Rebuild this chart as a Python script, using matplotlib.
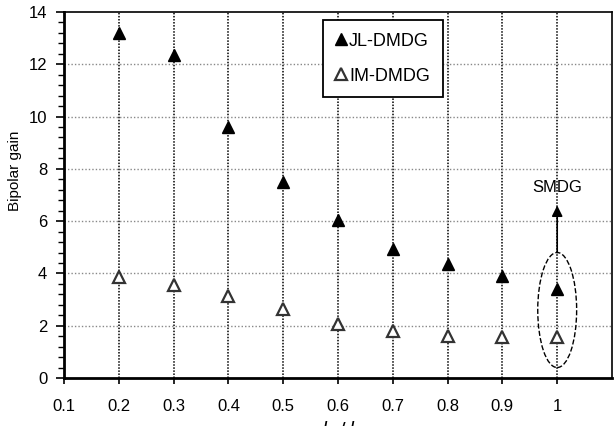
import matplotlib
matplotlib.use("Agg")
import matplotlib.pyplot as plt
from matplotlib.patches import Ellipse
from matplotlib.ticker import MultipleLocator

plt.rcParams['font.family'] = ['Liberation Sans', 'DejaVu Sans']

ratio = [0.2, 0.3, 0.4, 0.5, 0.6, 0.7, 0.8, 0.9, 1.0]
jl_dmdg = [13.2, 12.35, 9.6, 7.5, 6.05, 4.95, 4.35, 3.9, 3.4]
im_dmdg = [3.85, 3.55, 3.15, 2.65, 2.05, 1.8, 1.6, 1.55, 1.55]
x_ticks = [0.1, 0.2, 0.3, 0.4, 0.5, 0.6, 0.7, 0.8, 0.9, 1.0]
x_labels = ["0.1", "0.2", "0.3", "0.4", "0.5", "0.6", "0.7", "0.8", "0.9", "1"]

fig = plt.figure(figsize=(6.16, 4.26), dpi=100)
ax = fig.add_axes([0.1039, 0.1127, 0.8896, 0.8591])

# grid: dotted black verticals, dotted grey horizontals
for x in x_ticks[1:]:
    ax.axvline(x, color="black", ls=(0, (1, 1)), lw=1.1, zorder=1)
for y in range(2, 14, 2):
    ax.axhline(y, color="#888888", ls=(0, (1, 1.5)), lw=1.0, zorder=1)

ax.plot(ratio, jl_dmdg, ls="none", marker="^", ms=9, mfc="black", mec="black",
        label="JL-DMDG", zorder=3)
ax.plot(ratio, im_dmdg, ls="none", marker="^", ms=9, mfc="white", mec="#333333",
        mew=1.6, label="IM-DMDG", zorder=3)

# SMDG highlight
ax.add_patch(Ellipse((1.0, 2.6), 0.071, 4.4, fill=False, ls="--", lw=1.0,
                     ec="black", zorder=4))
ax.annotate("", xy=(1.0, 6.6), xytext=(1.0, 4.8),
            arrowprops=dict(arrowstyle="-|>", color="black", lw=1.2,
                            mutation_scale=16, shrinkA=0, shrinkB=0))
ax.text(1.0, 7.3, "SMDG", ha="center", va="center", fontsize=12)

ax.set_xlim(0.1, 1.1)
ax.set_ylim(0, 14)
ax.set_xticks(x_ticks)
ax.set_xticklabels(x_labels)
ax.yaxis.set_major_locator(MultipleLocator(2))
ax.yaxis.set_minor_locator(MultipleLocator(0.4))
ax.tick_params(axis="both", labelsize=12, direction="out", width=1.2)
ax.tick_params(axis="y", which="major", length=6, pad=6)
ax.tick_params(axis="y", which="minor", length=4, width=1.0)
ax.tick_params(axis="x", length=4, pad=11)
for s in ["left", "bottom"]:
    ax.spines[s].set_linewidth(2)
for s in ["top", "right"]:
    ax.spines[s].set_linewidth(1.2)

ax.set_ylabel("Bipolar gain", fontsize=11)
ax.yaxis.set_label_coords(-0.077, 0.566)
ax.set_xlabel("$l_h\\,/\\,l$", fontsize=14, labelpad=4)

leg = ax.legend(loc="upper left", bbox_to_anchor=(0.4726, 0.978), fontsize=13,
                handlelength=0.6, handletextpad=0.15, borderpad=0.7,
                labelspacing=1.0, borderaxespad=0, fancybox=False,
                edgecolor="black", framealpha=1)
leg.get_frame().set_linewidth(1.3)

fig.savefig("out.png", dpi=100)
